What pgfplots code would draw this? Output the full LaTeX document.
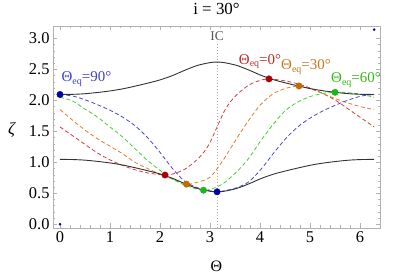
\documentclass[border=0pt]{standalone}
\usepackage{fontspec}
\setmainfont{Liberation Serif}
\usepackage{pgfplots}
\pgfplotsset{compat=1.18}
\definecolor{cred}{rgb}{0.82,0.25,0.25}
\definecolor{corange}{rgb}{0.86,0.5,0.18}
\definecolor{cgreen}{rgb}{0.3,0.8,0.2}
\definecolor{cblue}{rgb}{0.28,0.28,0.86}
\definecolor{dred}{rgb}{0.68,0.0,0.0}
\definecolor{dorange}{rgb}{0.76,0.42,0.0}
\definecolor{dgreen}{rgb}{0.1,0.72,0.1}
\definecolor{dblue}{rgb}{0.0,0.0,0.66}
\definecolor{lred}{rgb}{0.76,0.16,0.16}
\definecolor{lorange}{rgb}{0.78,0.46,0.12}
\definecolor{lgreen}{rgb}{0.2,0.72,0.1}
\definecolor{lblue}{rgb}{0.25,0.25,0.82}
\newcommand{\eqlab}[1]{Θ\raisebox{-0.35ex}{\fontsize{10}{10}\selectfont eq}=#1°}
\begin{document}
\begin{tikzpicture}
\begin{axis}[name=ax, scale only axis, width=327bp, height=202bp,
  xmin=-0.14, xmax=6.4, ymin=-0.06, ymax=3.2,
  xtick={0,1,2,3,4,5,6}, ytick={0,0.5,1,1.5,2,2.5,3},
  minor x tick num=4, minor y tick num=4,
  tick align=inside, major tick length=4.5bp, minor tick length=2.5bp,
  axis line style={gray!60}, every tick/.style={gray!60},
  /pgf/number format/assume math mode=true,
  yticklabel style={/pgf/number format/.cd, fixed, fixed zerofill, precision=1},
  tick label style={font=\fontsize{16.5}{16.5}\selectfont},
  xlabel={Θ}, xlabel style={font=\fontsize{16}{16}\selectfont, at={(axis description cs:0.5,-0.188)}, anchor=center},
  ylabel={\textit{ζ}}, ylabel style={font=\fontsize{17}{17}\selectfont, rotate=-90, at={(axis description cs:-0.125,0.485)}, anchor=center},
  clip=false]
% dotted IC line
\addplot[gray!65, line width=0.6bp, dash pattern=on 1bp off 2bp] coordinates {(3.1416,-0.06) (3.1416,2.93)};
% dashed curves
\addplot[cred, line width=0.8bp, dash pattern=on 4bp off 2.5bp, smooth, tension=0.5] coordinates {
(0,1.571) (0.25,1.43) (0.5,1.29) (0.75,1.15) (1.0,1.04) (1.25,0.95) (1.5,0.88) (1.75,0.83) (2.0,0.80) (2.1,0.795) (2.25,0.81) (2.5,0.89) (2.75,1.05) (2.9,1.19) (3.0,1.32) (3.1416,1.571) (3.2832,1.82) (3.3832,1.95) (3.5332,2.09) (3.7832,2.25) (4.0332,2.33) (4.1832,2.346) (4.2832,2.34) (4.5332,2.31) (4.7832,2.26) (5.0332,2.19) (5.2832,2.10) (5.5332,1.99) (5.7832,1.85) (6.0332,1.71) (6.2832,1.571)};
\addplot[corange, line width=0.8bp, dash pattern=on 4bp off 2.5bp, smooth, tension=0.5] coordinates {
(0,1.85) (0.25,1.68) (0.5,1.52) (0.75,1.38) (1.0,1.26) (1.25,1.14) (1.5,1.00) (1.75,0.90) (2.0,0.81) (2.25,0.73) (2.53,0.648) (2.75,0.68) (3.0,0.76) (3.25,1.02) (3.5,1.34) (3.75,1.65) (4.0,1.92) (4.25,2.10) (4.5,2.19) (4.78,2.232) (5.0,2.19) (5.25,2.11) (5.5,2.03) (5.75,1.96) (6.0,1.90) (6.2832,1.85)};
\addplot[cgreen, line width=0.8bp, dash pattern=on 4bp off 2.5bp, smooth, tension=0.5] coordinates {
(0,2.05) (0.25,1.99) (0.5,1.86) (0.75,1.73) (1.0,1.57) (1.25,1.41) (1.5,1.22) (1.75,1.03) (2.0,0.87) (2.25,0.73) (2.5,0.63) (2.75,0.565) (2.87,0.55) (3.0,0.56) (3.25,0.65) (3.5,0.82) (3.75,1.04) (4.0,1.33) (4.25,1.60) (4.5,1.83) (4.75,1.97) (5.0,2.06) (5.25,2.11) (5.5,2.13) (5.75,2.125) (6.0,2.10) (6.2832,2.05)};
\addplot[cblue, line width=0.8bp, dash pattern=on 4bp off 2.5bp, smooth, tension=0.5] coordinates {
(0,2.094) (0.25,2.07) (0.5,2.01) (0.75,1.93) (1.0,1.84) (1.25,1.73) (1.5,1.59) (1.75,1.40) (2.0,1.16) (2.25,0.90) (2.5,0.69) (2.75,0.59) (3.0,0.54) (3.1416,0.524) (3.2832,0.54) (3.5332,0.59) (3.7832,0.69) (4.0332,0.90) (4.2832,1.16) (4.5332,1.40) (4.7832,1.59) (5.0332,1.73) (5.2832,1.84) (5.5332,1.93) (5.7832,2.01) (6.0332,2.07) (6.2832,2.094)};
% black curves
\addplot[black!80, line width=0.9bp, smooth, tension=0.5] coordinates {
(0,1.047) (0.25,1.045) (0.5,1.035) (0.75,1.015) (1.0,0.99) (1.25,0.957) (1.5,0.913) (1.75,0.865) (2.0,0.812) (2.25,0.742) (2.5,0.655) (2.75,0.578) (3.0,0.533) (3.1416,0.524) (3.2832,0.533) (3.5332,0.578) (3.7832,0.655) (4.0332,0.742) (4.2832,0.812) (4.5332,0.865) (4.7832,0.913) (5.0332,0.957) (5.2832,0.99) (5.5332,1.015) (5.7832,1.035) (6.0332,1.045) (6.2832,1.047)};
\addplot[black!80, line width=0.9bp, smooth, tension=0.5] coordinates {
(0,2.095) (0.25,2.097) (0.5,2.107) (0.75,2.127) (1.0,2.152) (1.25,2.185) (1.5,2.229) (1.75,2.277) (2.0,2.330) (2.25,2.400) (2.5,2.487) (2.75,2.564) (3.0,2.609) (3.1416,2.618) (3.2832,2.609) (3.5332,2.564) (3.7832,2.487) (4.0332,2.400) (4.2832,2.330) (4.5332,2.277) (4.7832,2.229) (5.0332,2.185) (5.2832,2.152) (5.5332,2.127) (5.7832,2.107) (6.0332,2.097) (6.2832,2.095)};
% dots
\addplot[only marks, mark=*, mark size=3.2bp, color=dblue] coordinates {(0,2.095) (3.1416,0.524)};
\addplot[only marks, mark=*, mark size=3.2bp, color=dred] coordinates {(2.1,0.795) (4.18,2.346)};
\addplot[only marks, mark=*, mark size=3.2bp, color=dorange] coordinates {(2.53,0.648) (4.78,2.232)};
\addplot[only marks, mark=*, mark size=3.2bp, color=dgreen] coordinates {(2.87,0.55) (5.5,2.13)};
\addplot[only marks, mark=*, mark size=1.1bp, color=dblue] coordinates {(0,0) (6.2832,3.1416)};
% labels
\node[font=\fontsize{17}{17}\selectfont, anchor=base, inner sep=0pt] at (axis description cs:0.5,1.057) {i = 30°};
\node[gray!70!black, font=\fontsize{13.5}{13.5}\selectfont] at (axis cs:3.1416,3.04) {IC};
\node[lblue, font=\fontsize{15}{15}\selectfont, anchor=west, inner sep=0pt] at (axis cs:0.03,2.34) {\eqlab{90}};
\node[lred, font=\fontsize{15}{15}\selectfont] at (axis cs:4.0,2.63) {\eqlab{0}};
\node[lorange, font=\fontsize{15}{15}\selectfont] at (axis cs:4.92,2.54) {\eqlab{30}};
\node[lgreen, font=\fontsize{15}{15}\selectfont] at (axis cs:5.92,2.33) {\eqlab{60}};
\end{axis}
\pgfresetboundingbox
\path ([xshift=-53bp,yshift=-48bp]ax.south west) rectangle ([xshift=27bp,yshift=26bp]ax.north east);
\end{tikzpicture}
\end{document}
